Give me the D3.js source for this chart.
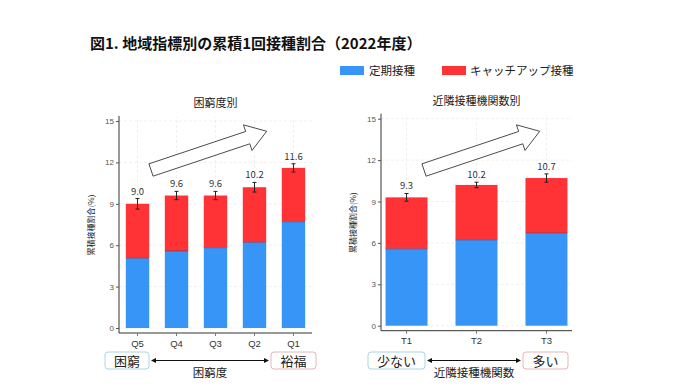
<!DOCTYPE html>
<html><head><meta charset="utf-8">
<script src="https://cdn.jsdelivr.net/npm/d3@7"></script>
<style>
body{margin:0;background:#fff;}
svg{display:block;font-family:"Noto Sans CJK JP","Noto Sans",sans-serif;}
</style></head><body>
<svg id="c" width="700" height="392"></svg>
<script>
const leftCats = ["Q5","Q4","Q3","Q2","Q1"];
const leftRoutine = [5.05,5.58,5.82,6.2,7.7];
const leftTotal = [9.0,9.6,9.6,10.2,11.6];
const leftErr = [0.38,0.3,0.3,0.35,0.3];
const rightCats = ["T1","T2","T3"];
const rightRoutine = [5.57,6.22,6.71];
const rightTotal = [9.3,10.2,10.7];
const rightErr = [0.28,0.2,0.3];
const yTicks = [0,3,6,9,12,15];
const seriesNames = ["定期接種","キャッチアップ接種"];
const colors = ["#3795F8","#FF3236"];

const svg = d3.select("#c");
svg.append("text").attr("x",90).attr("y",49).attr("font-size",15).attr("font-weight",600).attr("fill","#111")
  .text("図1. 地域指標別の累積1回接種割合（2022年度）");

// legend
const lg = svg.append("g");
[[340,369],[442,470]].forEach((p,i)=>{
  lg.append("rect").attr("x",p[0]).attr("y",66).attr("width",24).attr("height",9).attr("fill",colors[i]);
  lg.append("text").attr("x",p[1]).attr("y",75).attr("font-size",11.5).attr("fill","#222").text(seriesNames[i]);
});

function panel(o){
  const g = svg.append("g");
  const y = d3.scaleLinear().domain([0,15]).range([o.y0,o.y0-41.4*5]);
  const x = d3.scaleBand().domain(o.cats).range([o.xl,o.xr]).paddingInner(0.4).paddingOuter(o.po);
  // grid
  g.selectAll(".hg").data(yTicks).join("line").attr("x1",o.xl).attr("x2",o.xr)
    .attr("y1",d=>y(d)).attr("y2",d=>y(d)).attr("stroke","#ececec").attr("stroke-dasharray","3,2").attr("stroke-width",0.8);
  g.selectAll(".vg").data(o.cats).join("line").attr("x1",d=>x(d)+x.bandwidth()/2).attr("x2",d=>x(d)+x.bandwidth()/2)
    .attr("y1",o.y0).attr("y2",o.y0-41.4*5-4).attr("stroke","#ececec").attr("stroke-dasharray","3,2").attr("stroke-width",0.8);
  // bars
  o.cats.forEach((c,i)=>{
    g.append("rect").attr("x",x(c)).attr("width",x.bandwidth()).attr("y",y(o.tot[i])).attr("height",y(o.rt[i])-y(o.tot[i])).attr("fill",colors[1]);
    g.append("rect").attr("x",x(c)).attr("width",x.bandwidth()).attr("y",y(o.rt[i])).attr("height",y(0)-y(o.rt[i])).attr("fill",colors[0]);
    g.append("line").attr("x1",x(c)).attr("x2",x(c)+x.bandwidth()).attr("y1",y(o.rt[i])).attr("y2",y(o.rt[i])).attr("stroke","#5a3a6a").attr("stroke-width",0.6);
    const cx = x(c)+x.bandwidth()/2;
    const e = o.err[i];
    g.append("line").attr("x1",cx).attr("x2",cx).attr("y1",y(o.tot[i]-e)).attr("y2",y(o.tot[i]+e)).attr("stroke","#222").attr("stroke-width",1);
    [o.tot[i]-e,o.tot[i]+e].forEach(v=>g.append("line").attr("x1",cx-2).attr("x2",cx+2).attr("y1",y(v)).attr("y2",y(v)).attr("stroke","#222").attr("stroke-width",1));
    g.append("text").attr("x",cx).attr("y",y(o.tot[i]+e)-4).attr("text-anchor","middle").attr("font-size",9.5).attr("fill","#333").text(o.tot[i].toFixed(1));
  });
  // axes
  const ya = g.append("g").attr("transform",`translate(${o.xl},0)`).call(d3.axisLeft(y).tickValues(yTicks).tickSize(3).tickPadding(2));
  ya.select(".domain").attr("d",`M0,${o.y0+5}V${o.y0-41.4*5-5}`).attr("stroke","#333");
  ya.selectAll("text").attr("font-size",8).attr("fill","#555").attr("font-family","'Liberation Sans',sans-serif");
  ya.selectAll(".tick line").attr("stroke","#555");
  const xa = g.append("g").attr("transform",`translate(0,${o.y0+5})`).call(d3.axisBottom(x).tickSize(3).tickPadding(4));
  xa.select(".domain").attr("d",`M${o.xl},0H${o.xr}`).attr("stroke","#333");
  xa.selectAll("text").attr("font-size",9.5).attr("fill","#333").attr("font-family","'Liberation Sans',sans-serif");
  xa.selectAll(".tick line").attr("stroke","#777");
  // y label
  g.append("text").attr("transform",`translate(${o.xl-25},${o.y0-103}) rotate(-90)`).attr("text-anchor","middle")
    .attr("font-size",8).attr("fill","#222").text("累積接種割合(%)");
  // title
  g.append("text").attr("x",(o.xl+o.xr)/2).attr("y",o.y0-221).attr("text-anchor","middle").attr("font-size",11).attr("fill","#222").text(o.title);
  // big arrow
  const L=122, sw=13, hw=27, hl=20;
  const pts=[[0,-sw/2],[L-hl,-sw/2],[L-hl,-hw/2],[L,0],[L-hl,hw/2],[L-hl,sw/2],[0,sw/2]];
  g.append("polygon").attr("points",pts.map(p=>p.join(",")).join(" "))
    .attr("transform",`translate(${o.ax},${o.ay}) rotate(-18.5)`).attr("fill","#fff").attr("stroke","#333").attr("stroke-width",0.8);
  // bottom annotations
  const by=352, bh=17;
  g.append("rect").attr("x",o.b1[0]).attr("y",by).attr("width",o.b1[1]-o.b1[0]).attr("height",bh).attr("rx",3)
    .attr("fill","#fff").attr("stroke","#a9d6e6").attr("stroke-width",1);
  g.append("text").attr("x",(o.b1[0]+o.b1[1])/2).attr("y",by+14).attr("text-anchor","middle").attr("font-size",13).attr("fill","#222").text(o.lo);
  g.append("rect").attr("x",o.b2[0]).attr("y",by).attr("width",o.b2[1]-o.b2[0]).attr("height",bh).attr("rx",3)
    .attr("fill","#fff").attr("stroke","#e6b4b8").attr("stroke-width",1);
  g.append("text").attr("x",(o.b2[0]+o.b2[1])/2).attr("y",by+14).attr("text-anchor","middle").attr("font-size",13).attr("fill","#222").text(o.hi);
  const ay2 = by+8.5, a1=o.b1[1]+2, a2=o.b2[0]-2;
  g.append("line").attr("x1",a1+3).attr("x2",a2-3).attr("y1",ay2).attr("y2",ay2).attr("stroke","#111").attr("stroke-width",1);
  g.append("path").attr("d",`M${a1},${ay2}l5,-2.5v5z M${a2},${ay2}l-5,-2.5v5z`).attr("fill","#111");
  g.append("text").attr("x",(a1+a2)/2).attr("y",by+25).attr("text-anchor","middle").attr("font-size",11.5).attr("fill","#222").text(o.xlab);
}

panel({cats:leftCats,rt:leftRoutine,tot:leftTotal,err:leftErr,xl:119,xr:312,po:0.175,y0:328,
  title:"困窮度別",ax:151,ay:170,b1:[105,149],b2:[271,316],lo:"困窮",hi:"裕福",xlab:"困窮度"});
panel({cats:rightCats,rt:rightRoutine,tot:rightTotal,err:rightErr,xl:381,xr:572,po:0.065,y0:325.7,
  title:"近隣接種機関数別",ax:424,ay:170,b1:[368,425],b2:[523,568],lo:"少ない",hi:"多い",xlab:"近隣接種機関数"});
</script></body></html>
